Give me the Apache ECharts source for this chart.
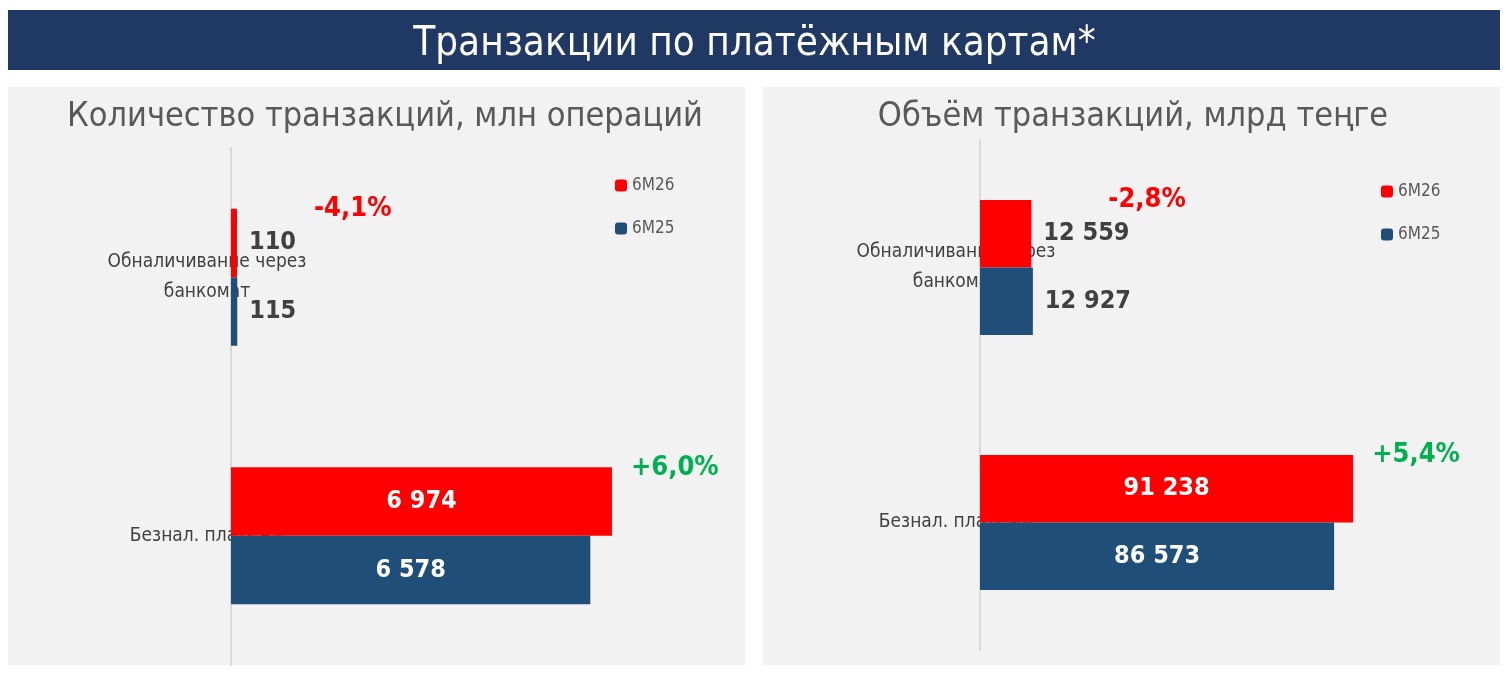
<!doctype html>
<html lang="ru">
<head>
    <meta charset="UTF-8">
    <title>Транзакции по платёжным картам</title>
    <script src="https://cdn.jsdelivr.net/npm/echarts@6/dist/echarts.min.js"></script>
    <style>
        html, body { margin: 0; padding: 0; background: #ffffff; }
        #main { width: 1509px; height: 675px; }
    </style>
</head>
<body>
<div id="main"></div>
<script>
    // данные
    let categories = ['Обналичивание через\nбанкомат', 'Безнал. платежи'];
    let seriesNames = ['6М26', '6М25'];
    let countCur = [110, 6974];
    let countPrev = [115, 6578];
    let countPct = ['-4,1%', '+6,0%'];
    let volumeCur = [12559, 91238];
    let volumePrev = [12927, 86573];
    let volumePct = ['-2,8%', '+5,4%'];

    let FONT = "'Liberation Sans Narrow', 'DejaVu Sans Condensed', 'Roboto', sans-serif";
    let RED = '#ff0000';
    let BLUE = '#1f4e79';

    function fmt(v) {
        return String(v).replace(/\B(?=(\d{3})+(?!\d))/g, ' ');
    }

    function pctColor(p) {
        return p.charAt(0) === '-' ? RED : '#00b050';
    }

    // малые значения - подпись снаружи, большие - внутри
    function barData(values, limit) {
        return values.map(function (v) {
            let inside = v > limit;
            return {
                value: v,
                label: {
                    position: inside ? 'inside' : 'right',
                    color: inside ? '#ffffff' : '#404040',
                    distance: 12
                }
            };
        });
    }

    function pctMarks(values, pcts, gridIdx, limit) {
        return values.map(function (v, i) {
            return {
                coord: [v, i],
                value: pcts[i],
                label: {
                    color: pctColor(pcts[i]),
                    offset: [v > limit ? 14 : 72, -34]
                }
            };
        });
    }

    let chart = echarts.init(document.getElementById('main'));

    let grids = [
        {left: 231, top: 148, width: 437, height: 517},
        {left: 980, top: 140, width: 409, height: 510}
    ];

    function makeSeries(idx, cur, prev, pcts, limit) {
        let common = {
            type: 'bar',
            xAxisIndex: idx,
            yAxisIndex: idx,
            barGap: '0%',
            barCategoryGap: '47%',
            label: {
                show: true,
                fontFamily: FONT,
                fontSize: 25,
                fontWeight: 'bold',
                formatter: function (p) { return fmt(p.value); }
            }
        };
        return [
            Object.assign({}, common, {
                name: seriesNames[0],
                itemStyle: {color: RED},
                data: barData(cur, limit),
                markPoint: {
                    symbol: 'circle',
                    symbolSize: 0,
                    label: {
                        show: true,
                        position: 'right',
                        fontFamily: FONT,
                        fontSize: 27,
                        fontWeight: 'bold',
                        formatter: function (p) { return p.value; }
                    },
                    data: pctMarks(cur, pcts, idx, limit)
                }
            }),
            Object.assign({}, common, {
                name: seriesNames[1],
                itemStyle: {color: BLUE},
                data: barData(prev, limit)
            })
        ];
    }

    let option = {
        animation: false,
        backgroundColor: '#ffffff',
        graphic: [
            {type: 'rect', shape: {x: 8, y: 10, width: 1492, height: 60}, style: {fill: '#1f3864'}},
            {type: 'rect', shape: {x: 8, y: 87, width: 737, height: 578}, style: {fill: '#f2f2f2'}, z: -10},
            {type: 'rect', shape: {x: 763, y: 87, width: 737, height: 578}, style: {fill: '#f2f2f2'}, z: -10}
        ],
        title: [
            {text: 'Транзакции по платёжным картам*', left: 'center', top: 20,
                textStyle: {color: '#ffffff', fontFamily: FONT, fontSize: 40, fontWeight: 'normal'}},
            {text: 'Количество транзакций, млн операций', left: 380, textAlign: 'center', top: 95,
                textStyle: {color: '#595959', fontFamily: FONT, fontSize: 34, fontWeight: 'normal'}},
            {text: 'Объём транзакций, млрд теңге', left: 1128, textAlign: 'center', top: 95,
                textStyle: {color: '#595959', fontFamily: FONT, fontSize: 34, fontWeight: 'normal'}}
        ],
        legend: [
            {orient: 'vertical', left: 610, top: 172, itemGap: 26, itemWidth: 12, itemHeight: 12,
                data: seriesNames, textStyle: {color: '#595959', fontFamily: FONT, fontSize: 17}},
            {orient: 'vertical', left: 1376, top: 178, itemGap: 26, itemWidth: 12, itemHeight: 12,
                data: seriesNames, textStyle: {color: '#595959', fontFamily: FONT, fontSize: 17}}
        ],
        grid: grids,
        xAxis: [
            {type: 'value', gridIndex: 0, min: 0, max: 8000, show: false},
            {type: 'value', gridIndex: 1, min: 0, max: 100000, show: false}
        ],
        yAxis: [0, 1].map(function (i) {
            return {
                type: 'category', gridIndex: i, inverse: true, data: categories,
                axisTick: {show: false},
                axisLine: {lineStyle: {color: '#d9d9d9', width: 2}},
                axisLabel: {color: '#404040', fontFamily: FONT, fontSize: 19, lineHeight: 30, margin: 24, align: 'center',
                    padding: [0, 0, 0, 0],
                    formatter: function (v) { return v; }}
            };
        }),
        series: makeSeries(0, countCur, countPrev, countPct, 1000)
            .concat(makeSeries(1, volumeCur, volumePrev, volumePct, 50000))
    };

    chart.setOption(option);
</script>
</body>
</html>
